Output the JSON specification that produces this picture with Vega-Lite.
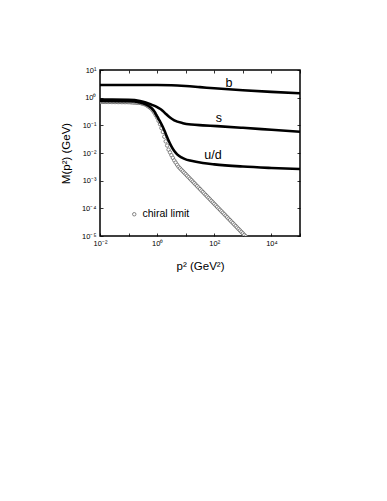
{
  "$schema": "https://vega.github.io/schema/vega-lite/v6.json",
  "width": 200,
  "height": 166,
  "autosize": {"type": "none"},
  "padding": {"left": 100, "top": 70, "right": 87, "bottom": 265},
  "background": "white",
  "config": {
    "view": {"stroke": "black", "strokeWidth": 1.5},
    "font": "Liberation Sans",
    "axis": {"grid": false, "domain": false, "tickColor": "black", "tickWidth": 0.8, "labelColor": "black", "titleColor": "black", "titleFontWeight": "normal", "labelFont": "Liberation Sans", "titleFont": "Liberation Sans"}
  },
  "datasets": {
    "chiral": [
      {"p": 1e-2, "m": 0.708}, {"p": 1.122e-2, "m": 0.708}, {"p": 1.259e-2, "m": 0.707}, {"p": 1.413e-2, "m": 0.706},
      {"p": 1.585e-2, "m": 0.705}, {"p": 1.778e-2, "m": 0.704}, {"p": 1.995e-2, "m": 0.703}, {"p": 2.239e-2, "m": 0.702},
      {"p": 2.512e-2, "m": 0.701}, {"p": 2.818e-2, "m": 0.700}, {"p": 3.162e-2, "m": 0.700}, {"p": 3.548e-2, "m": 0.699},
      {"p": 3.981e-2, "m": 0.698}, {"p": 4.467e-2, "m": 0.697}, {"p": 5.012e-2, "m": 0.696}, {"p": 5.623e-2, "m": 0.695},
      {"p": 6.310e-2, "m": 0.694}, {"p": 7.079e-2, "m": 0.693}, {"p": 7.943e-2, "m": 0.693}, {"p": 8.913e-2, "m": 0.692},
      {"p": 0.1, "m": 0.692}, {"p": 0.1122, "m": 0.686}, {"p": 0.1259, "m": 0.680}, {"p": 0.1413, "m": 0.674},
      {"p": 0.1585, "m": 0.668}, {"p": 0.1778, "m": 0.663}, {"p": 0.1995, "m": 0.657}, {"p": 0.2239, "m": 0.651},
      {"p": 0.2512, "m": 0.646}, {"p": 0.2818, "m": 0.624}, {"p": 0.3162, "m": 0.603}, {"p": 0.3548, "m": 0.582},
      {"p": 0.3981, "m": 0.562}, {"p": 0.4467, "m": 0.516}, {"p": 0.5012, "m": 0.473}, {"p": 0.5623, "m": 0.434},
      {"p": 0.6310, "m": 0.398}, {"p": 0.7079, "m": 0.339}, {"p": 0.7943, "m": 0.288}, {"p": 0.8913, "m": 0.234},
      {"p": 1.0, "m": 0.191}, {"p": 1.122, "m": 0.145}, {"p": 1.259, "m": 0.110}, {"p": 1.413, "m": 0.0794},
      {"p": 1.585, "m": 0.0575}, {"p": 1.778, "m": 0.0389}, {"p": 1.995, "m": 0.0263}, {"p": 2.239, "m": 0.0186},
      {"p": 2.512, "m": 0.0132}, {"p": 2.818, "m": 0.0105}, {"p": 3.162, "m": 0.00832}, {"p": 3.548, "m": 0.00668},
      {"p": 3.981, "m": 0.00537}, {"p": 4.467, "m": 0.00448}, {"p": 5.012, "m": 0.00374}, {"p": 5.623, "m": 0.00316},
      {"p": 6.310, "m": 0.00279}, {"p": 7.079, "m": 0.00247}, {"p": 7.943, "m": 0.00218}, {"p": 8.913, "m": 0.00193},
      {"p": 10, "m": 0.00171}, {"p": 11.22, "m": 1.508e-3}, {"p": 12.59, "m": 1.333e-3}, {"p": 14.13, "m": 1.178e-3},
      {"p": 15.85, "m": 1.042e-3}, {"p": 17.78, "m": 9.21e-4}, {"p": 19.95, "m": 8.14e-4}, {"p": 22.39, "m": 7.20e-4},
      {"p": 25.12, "m": 6.36e-4}, {"p": 28.18, "m": 5.63e-4}, {"p": 31.62, "m": 4.98e-4}, {"p": 35.48, "m": 4.40e-4},
      {"p": 39.81, "m": 3.89e-4}, {"p": 44.67, "m": 3.44e-4}, {"p": 50.12, "m": 3.04e-4}, {"p": 56.23, "m": 2.69e-4},
      {"p": 63.10, "m": 2.38e-4}, {"p": 70.79, "m": 2.10e-4}, {"p": 79.43, "m": 1.86e-4}, {"p": 89.13, "m": 1.64e-4},
      {"p": 100, "m": 1.45e-4}, {"p": 112.2, "m": 1.28e-4}, {"p": 125.9, "m": 1.13e-4}, {"p": 141.3, "m": 1.00e-4},
      {"p": 158.5, "m": 8.87e-5}, {"p": 177.8, "m": 7.84e-5}, {"p": 199.5, "m": 6.93e-5}, {"p": 223.9, "m": 6.13e-5},
      {"p": 251.2, "m": 5.42e-5}, {"p": 281.8, "m": 4.79e-5}, {"p": 316.2, "m": 4.23e-5}, {"p": 354.8, "m": 3.74e-5},
      {"p": 398.1, "m": 3.31e-5}, {"p": 446.7, "m": 2.93e-5}, {"p": 501.2, "m": 2.59e-5}, {"p": 562.3, "m": 2.29e-5},
      {"p": 631.0, "m": 2.02e-5}, {"p": 707.9, "m": 1.79e-5}, {"p": 794.3, "m": 1.58e-5}, {"p": 891.3, "m": 1.40e-5},
      {"p": 1000, "m": 1.24e-5}, {"p": 1122, "m": 1.09e-5}, {"p": 1259, "m": 9.66e-6}
    ],
    "curves": [
      {"q": "b", "p": 0.01, "m": 2.884}, {"q": "b", "p": 0.1, "m": 2.884}, {"q": "b", "p": 1, "m": 2.884},
      {"q": "b", "p": 3.162, "m": 2.818}, {"q": "b", "p": 10, "m": 2.630}, {"q": "b", "p": 31.62, "m": 2.399},
      {"q": "b", "p": 100, "m": 2.188}, {"q": "b", "p": 1000, "m": 1.862}, {"q": "b", "p": 10000, "m": 1.622},
      {"q": "b", "p": 100000, "m": 1.445},
      {"q": "s", "p": 0.01, "m": 0.851}, {"q": "s", "p": 0.1, "m": 0.832}, {"q": "s", "p": 0.2512, "m": 0.759},
      {"q": "s", "p": 0.3981, "m": 0.676}, {"q": "s", "p": 0.631, "m": 0.562}, {"q": "s", "p": 1, "m": 0.457},
      {"q": "s", "p": 1.259, "m": 0.398}, {"q": "s", "p": 1.585, "m": 0.331}, {"q": "s", "p": 1.995, "m": 0.263},
      {"q": "s", "p": 2.818, "m": 0.191}, {"q": "s", "p": 3.981, "m": 0.151}, {"q": "s", "p": 7.943, "m": 0.120},
      {"q": "s", "p": 15.85, "m": 0.107}, {"q": "s", "p": 39.81, "m": 0.100}, {"q": "s", "p": 125.9, "m": 0.0933},
      {"q": "s", "p": 1000, "m": 0.0813}, {"q": "s", "p": 10000, "m": 0.0692}, {"q": "s", "p": 100000, "m": 0.0589},
      {"q": "u/d", "p": 0.01, "m": 0.759}, {"q": "u/d", "p": 0.1, "m": 0.741}, {"q": "u/d", "p": 0.2512, "m": 0.676},
      {"q": "u/d", "p": 0.3981, "m": 0.575}, {"q": "u/d", "p": 0.631, "m": 0.417}, {"q": "u/d", "p": 0.7943, "m": 0.316},
      {"q": "u/d", "p": 1, "m": 0.209}, {"q": "u/d", "p": 1.259, "m": 0.138}, {"q": "u/d", "p": 1.585, "m": 0.0871},
      {"q": "u/d", "p": 1.995, "m": 0.0501}, {"q": "u/d", "p": 2.512, "m": 0.0282}, {"q": "u/d", "p": 3.162, "m": 0.0174},
      {"q": "u/d", "p": 3.981, "m": 0.01175}, {"q": "u/d", "p": 5.012, "m": 0.00891}, {"q": "u/d", "p": 7.079, "m": 0.00692},
      {"q": "u/d", "p": 10, "m": 0.00589}, {"q": "u/d", "p": 14.13, "m": 0.00537}, {"q": "u/d", "p": 39.81, "m": 0.00437},
      {"q": "u/d", "p": 100, "m": 0.00389}, {"q": "u/d", "p": 1000, "m": 0.00324}, {"q": "u/d", "p": 10000, "m": 0.00288},
      {"q": "u/d", "p": 100000, "m": 0.00263}
    ],
    "labels": [
      {"t": "b", "p": 327, "m": 3.39},
      {"t": "s", "p": 146, "m": 0.184},
      {"t": "u/d", "p": 90, "m": 0.0085}
    ]
  },
  "layer": [
    {
      "data": {"name": "chiral"},
      "mark": {"type": "point", "filled": false, "fill": "white", "fillOpacity": 1, "strokeWidth": 0.8, "size": 12, "opacity": 1, "clip": true},
      "encoding": {
        "x": {"field": "p", "type": "quantitative",
          "scale": {"type": "log", "domain": [0.01, 100000], "nice": false},
          "axis": {"orient": "bottom", "title": "p² (GeV²)", "titleFontSize": 11.5, "titlePadding": 14,
            "values": [0.01, 0.1, 1, 10, 100, 1000, 10000, 100000],
            "labelExpr": "['10⁻²','','10⁰','','10²','','10⁴',''][round(log(datum.value)/LN10)+2]",
            "labelFontSize": 7.5, "labelOverlap": false, "labelFlush": false, "tickSize": -3, "labelPadding": 6}},
        "y": {"field": "m", "type": "quantitative",
          "scale": {"type": "log", "domain": [0.00001, 10], "nice": false},
          "axis": {"orient": "left", "title": "M(p²) (GeV)", "titleFontSize": 11.5, "titlePadding": 10,
            "values": [0.00001, 0.0001, 0.001, 0.01, 0.1, 1, 10],
            "labelExpr": "['10⁻⁵','10⁻⁴','10⁻³','10⁻²','10⁻¹','10⁰','10¹'][round(log(datum.value)/LN10)+5]",
            "labelFontSize": 7.5, "labelOverlap": false, "labelFlush": false, "tickSize": -3, "labelPadding": 7}},
        "color": {"datum": "chiral limit", "type": "nominal", "scale": {"range": ["#666666"]},
          "legend": {"orient": "none", "legendX": 29, "legendY": 139, "title": null, "padding": 0,
            "labelFontSize": 10.5, "labelFont": "Liberation Sans", "labelColor": "black", "labelOffset": 3,
            "symbolType": "circle", "symbolSize": 12, "symbolStrokeWidth": 0.8, "symbolFillColor": "white", "symbolOpacity": 1}}
      }
    },
    {
      "data": {"name": "curves"},
      "mark": {"type": "line", "color": "black", "strokeWidth": 2.6, "interpolate": "monotone"},
      "encoding": {
        "x": {"field": "p", "type": "quantitative",
          "scale": {"type": "log", "domain": [0.01, 100000], "nice": false},
          "axis": {"orient": "top", "title": null, "labels": false, "tickSize": -3,
            "values": [0.01, 0.1, 1, 10, 100, 1000, 10000, 100000]}},
        "y": {"field": "m", "type": "quantitative",
          "scale": {"type": "log", "domain": [0.00001, 10], "nice": false},
          "axis": {"orient": "right", "title": null, "labels": false, "tickSize": -3,
            "values": [0.00001, 0.0001, 0.001, 0.01, 0.1, 1, 10]}},
        "detail": {"field": "q", "type": "nominal"}
      }
    },
    {
      "data": {"name": "labels"},
      "mark": {"type": "text", "fontSize": 12.5, "font": "Liberation Sans", "fill": "black"},
      "encoding": {
        "x": {"field": "p", "type": "quantitative", "axis": null},
        "y": {"field": "m", "type": "quantitative", "axis": null},
        "text": {"field": "t"}
      }
    }
  ],
  "resolve": {"axis": {"x": "independent", "y": "independent"}}
}
